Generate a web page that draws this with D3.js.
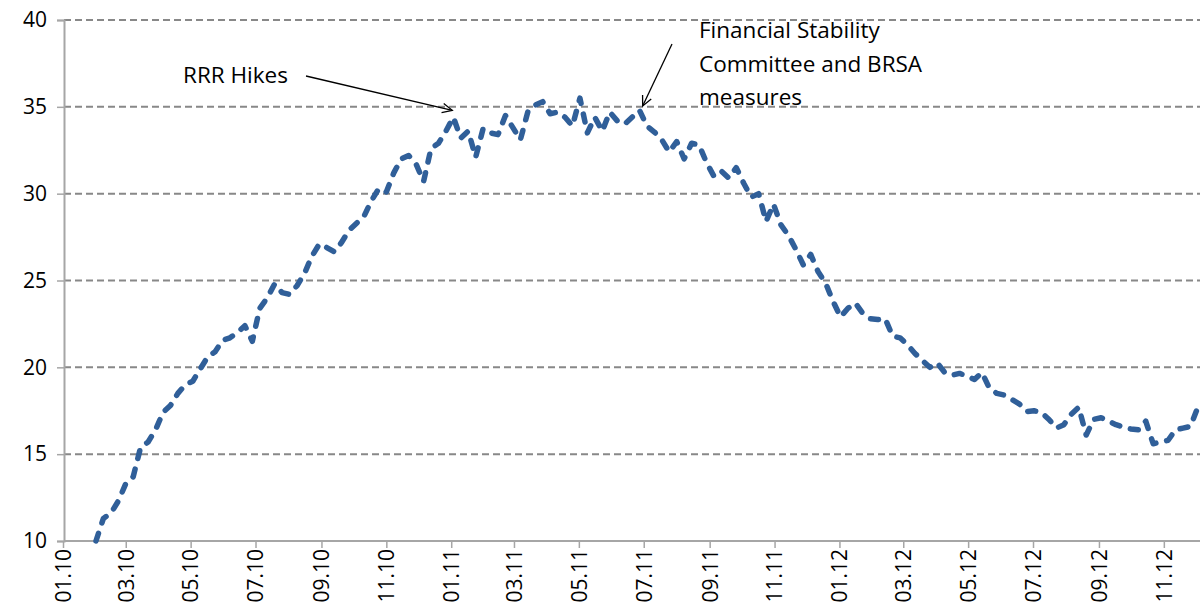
<!DOCTYPE html>
<html>
<head>
<meta charset="utf-8">
<script src="https://cdn.jsdelivr.net/npm/d3@7"></script>
<style>
  html, body { margin: 0; padding: 0; background: #fff; }
  svg { display: block; }
  text { font-family: "Open Sans", Lato, sans-serif; fill: #000; }
</style>
</head>
<body>
<svg id="chart" width="1200" height="614"></svg>
<script>
// ---------------- data ----------------
const seriesStart = "2010-02-01";          // first weekly observation
const seriesStepDays = 7;                   // weekly data
const seriesValues = [
  10.0, 11.3, 11.6, 12.3, 13.3, 13.7, 15.4, 15.7, 16.4, 17.4,
  17.8, 18.5, 19.0, 19.2, 19.9, 20.6, 20.9, 21.55, 21.7, 22.0,
  22.4, 21.5, 23.4, 24.0, 24.8, 24.3, 24.2, 24.7, 25.4, 26.4,
  27.1, 26.9, 26.65, 27.2, 27.9, 28.3, 28.7, 29.6, 30.3, 30.1,
  31.2, 32.0, 32.2, 31.7, 30.7, 32.6, 32.9, 33.6, 34.4, 33.2,
  33.6, 32.1, 33.75, 33.5, 33.4, 34.5, 33.8, 33.1, 34.7, 35.1,
  35.3, 34.6, 34.7, 34.4, 33.9, 35.5, 33.5, 34.4, 33.6, 34.7,
  34.2, 34.0, 34.4, 34.8, 33.9, 33.55, 33.1, 32.4, 33.0, 32.0,
  32.9, 32.8, 31.8, 31.0, 31.3, 30.9, 31.5, 30.6, 29.8, 30.0,
  28.4, 29.4, 28.2, 27.6, 26.8, 25.9, 26.5, 25.5, 24.85, 23.8,
  22.9, 23.4, 23.7, 23.1, 22.8, 22.75, 22.8, 21.8, 21.7, 21.3,
  20.8, 20.4, 20.0, 20.25, 19.7, 19.55, 19.65, 19.5, 19.3, 19.7,
  18.8, 18.5, 18.4, 18.15, 17.9, 17.45, 17.5, 17.4, 17.0, 16.5,
  16.7, 17.3, 17.7, 16.1, 17.0, 17.1, 16.9, 16.7, 16.55, 16.45,
  16.4, 16.9, 15.6, 15.7, 15.8, 16.4, 16.5, 16.6, 17.7
];
const yTickValues = [10, 15, 20, 25, 30, 35, 40];
const yGridValues = [15, 20, 25, 30, 35, 40];
const xTickLabels = ["01.10","03.10","05.10","07.10","09.10","11.10",
                     "01.11","03.11","05.11","07.11","09.11","11.11",
                     "01.12","03.12","05.12","07.12","09.12","11.12"];
const annotations = [
  { lines: ["RRR Hikes"], tipDate: "2011-01-02", tipValue: 34.8 },
  { lines: ["Financial Stability", "Committee and BRSA", "measures"], tipDate: "2011-06-30", tipValue: 35.05 }
];

// ---------------- layout ----------------
const svg = d3.select("#chart");
const plot = { left: 64, right: 1200, top: 20, bottom: 541 };
const parseDay = d3.timeParse("%Y-%m-%d");
const parseTick = d3.timeParse("%m.%y");
const FONT = "'Open Sans', Lato, sans-serif";

const start = parseDay(seriesStart);
const data = seriesValues.map((v, i) => ({ date: d3.timeDay.offset(start, i * seriesStepDays), value: v }));

const x = d3.scaleTime()
  .domain([new Date(2010, 0, 1), new Date(2012, 11, 5)])
  .range([63, plot.right]);
const y = d3.scaleLinear().domain([10, 40]).range([plot.bottom, plot.top]);

// gridlines
svg.append("g").selectAll("line").data(yGridValues).join("line")
  .attr("x1", plot.left).attr("x2", plot.right)
  .attr("y1", d => y(d)).attr("y2", d => y(d))
  .attr("stroke", "#888888").attr("stroke-width", 2)
  .attr("stroke-dasharray", "7,4");

// y axis
const yAxis = svg.append("g").attr("transform", `translate(${plot.left},0)`)
  .call(d3.axisLeft(y).tickValues(yTickValues).tickSize(7).tickPadding(10).tickFormat(d3.format("d")));
yAxis.select(".domain").attr("stroke", "#a6a6a6").attr("stroke-width", 2);
yAxis.selectAll(".tick line").attr("stroke", "#a6a6a6").attr("stroke-width", 1.5);
yAxis.selectAll(".tick text").style("font-size", "21px").style("font-family", FONT).attr("fill", "#000");

// x axis
const xAxis = svg.append("g").attr("transform", `translate(0,${plot.bottom})`)
  .call(d3.axisBottom(x).tickValues(xTickLabels.map(parseTick)).tickSize(7).tickFormat(d3.timeFormat("%m.%y")));
xAxis.select(".domain").attr("stroke", "#a6a6a6").attr("stroke-width", 2).attr("d", `M${plot.left},0H${plot.right}`);
xAxis.selectAll(".tick line").attr("stroke", "#a6a6a6").attr("stroke-width", 1.5);
xAxis.selectAll(".tick text")
  .style("font-size", "21px").style("font-family", FONT).attr("fill", "#000")
  .attr("text-anchor", "end")
  .attr("transform", "rotate(-90)")
  .attr("x", -8).attr("y", 0).attr("dy", "0.35em");

// line
const line = d3.line().x(d => x(d.date)).y(d => y(d.value));
svg.append("path").datum(data)
  .attr("d", line)
  .attr("fill", "none")
  .attr("stroke", "#305f99")
  .attr("stroke-width", 5.5)
  .attr("stroke-linecap", "round")
  .attr("stroke-linejoin", "round")
  .attr("stroke-dasharray", "8,11");

// annotations
const ann = svg.append("g");
function arrow(x1, y1, x2, y2) {
  ann.append("line").attr("x1", x1).attr("y1", y1).attr("x2", x2).attr("y2", y2)
    .attr("stroke", "#000").attr("stroke-width", 1.3);
  const a = Math.atan2(y2 - y1, x2 - x1), L = 11, w = 0.45;
  const p1 = [x2 - L * Math.cos(a - w), y2 - L * Math.sin(a - w)];
  const p2 = [x2 - L * Math.cos(a + w), y2 - L * Math.sin(a + w)];
  ann.append("path").attr("d", `M${p1}L${x2},${y2}L${p2}`)
    .attr("fill", "none").attr("stroke", "#000").attr("stroke-width", 1.3);
}
// RRR Hikes
{
  const a = annotations[0];
  const tx = x(parseDay(a.tipDate)), ty = y(a.tipValue);
  ann.append("text").attr("x", 183).attr("y", 83).style("font-size", "22.5px").style("font-family", FONT).text(a.lines[0]);
  arrow(306, 76, tx, ty);
}
// Financial Stability
{
  const a = annotations[1];
  const tx = x(parseDay(a.tipDate)), ty = y(a.tipValue);
  const t = ann.append("text").style("font-size", "22.5px").style("font-family", FONT);
  a.lines.forEach((l, i) => t.append("tspan").attr("x", 699).attr("y", 38 + i * 33.5).text(l));
  arrow(672, 44, tx, ty);
}
</script>
</body>
</html>
